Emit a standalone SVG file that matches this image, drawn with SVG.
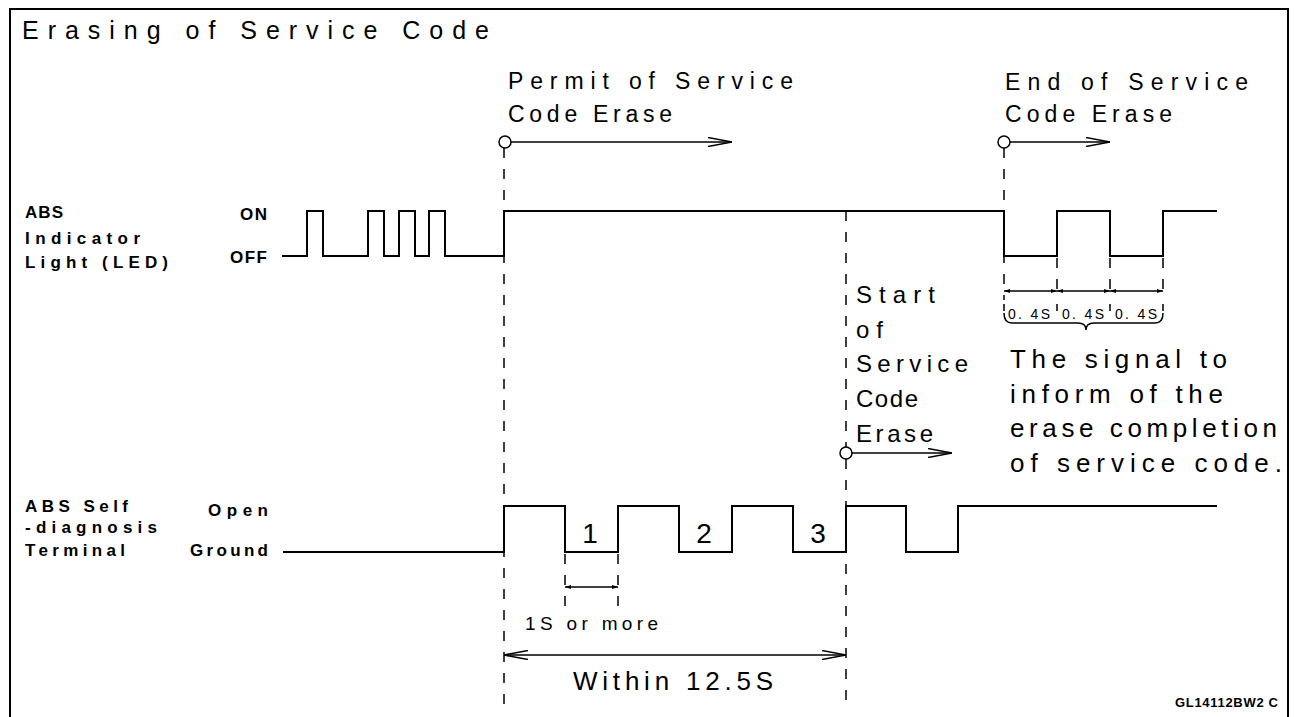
<svg xmlns="http://www.w3.org/2000/svg" width="1297" height="717" viewBox="0 0 1297 717">
<style>
.t{font-family:"Liberation Sans",Arial,sans-serif;fill:#000}
.lbl{font-family:"Liberation Sans",Arial,sans-serif;font-weight:bold;fill:#000;font-size:17px}
.wave{fill:none;stroke:#000;stroke-width:2}
.dash{fill:none;stroke:#000;stroke-width:1.5;stroke-dasharray:10 11}
.thin{fill:none;stroke:#000;stroke-width:1.5}
.circ{fill:#fff;stroke:#000;stroke-width:1.5}
</style>
<defs>
<marker id="open" viewBox="0 0 24 10" refX="24" refY="5" markerWidth="24" markerHeight="10" markerUnits="userSpaceOnUse" orient="auto-start-reverse">
<path d="M0,0.5 L24,5 L0,9.5" fill="none" stroke="#000" stroke-width="1.5"/>
</marker>
<marker id="dim" viewBox="0 0 6 4" refX="6" refY="2" markerWidth="6" markerHeight="4" markerUnits="userSpaceOnUse" orient="auto-start-reverse">
<path d="M0,0 L6,2 L0,4z" fill="#000"/>
</marker>
</defs>
<rect width="1297" height="717" fill="#fff"/>
<path d="M10,717 V9 H1288 V717" fill="none" stroke="#000" stroke-width="2"/>

<g id="title"><text class="t" x="22" y="39" font-size="25" textLength="467" lengthAdjust="spacing">Erasing of Service Code</text></g>

<g id="led-labels">
<text class="lbl" x="25" y="218" textLength="38" lengthAdjust="spacing">ABS</text>
<text class="lbl" x="25" y="244" textLength="115" lengthAdjust="spacing">Indicator</text>
<text class="lbl" x="25" y="268" textLength="143" lengthAdjust="spacing">Light (LED)</text>
<text class="lbl" x="240" y="220" textLength="27" lengthAdjust="spacing">ON</text>
<text class="lbl" x="230" y="263" textLength="37" lengthAdjust="spacing">OFF</text>
</g>

<g id="terminal-labels">
<text class="lbl" x="25" y="512" textLength="103" lengthAdjust="spacing">ABS Self</text>
<text class="lbl" x="25" y="533" textLength="132" lengthAdjust="spacing">-diagnosis</text>
<text class="lbl" x="25" y="556" textLength="100" lengthAdjust="spacing">Terminal</text>
<text class="lbl" x="208" y="516" textLength="60" lengthAdjust="spacing">Open</text>
<text class="lbl" x="190" y="556" textLength="78" lengthAdjust="spacing">Ground</text>
</g>

<g id="led-wave"><path class="wave" d="M282,256 H307 V211 H323 V256 H368 V211 H384 V256 H399 V211 H415 V256 H429 V211 H445 V256 H504 V211 H1004 V256 H1057 V211 H1110 V256 H1163 V211 H1217"/></g>
<g id="terminal-wave"><path class="wave" d="M283,552 H504 V506 H565 V552 H618 V506 H679 V552 H732 V506 H793 V552 H846 V506 H906 V552 H958 V506 H1217"/></g>

<g id="pulse-numbers">
<text class="t" x="590" y="543" font-size="28" text-anchor="middle">1</text>
<text class="t" x="704" y="543" font-size="28" text-anchor="middle">2</text>
<text class="t" x="818" y="543" font-size="28" text-anchor="middle">3</text>
</g>

<g id="connectors">
<line class="dash" x1="504" y1="148" x2="504" y2="706"/>
<line class="dash" x1="846" y1="211" x2="846" y2="447"/>
<line class="dash" x1="846" y1="459" x2="846" y2="706"/>
<line class="dash" x1="1004" y1="148" x2="1004" y2="300"/>
<line class="dash" x1="1057" y1="258" x2="1057" y2="300"/>
<line class="dash" x1="1110" y1="258" x2="1110" y2="300"/>
<line class="dash" x1="1163" y1="258" x2="1163" y2="300"/>
<path class="thin" d="M1004,304 V311 M1057,304 V311 M1110,304 V311 M1163,304 V311"/>
<line class="thin" x1="1004" y1="291" x2="1057" y2="291" marker-start="url(#dim)" marker-end="url(#dim)"/>
<line class="thin" x1="1057" y1="291" x2="1110" y2="291" marker-start="url(#dim)" marker-end="url(#dim)"/>
<line class="thin" x1="1110" y1="291" x2="1163" y2="291" marker-start="url(#dim)" marker-end="url(#dim)"/>
<path class="thin" d="M1004,313 Q1004,323 1012,323 H1078 Q1086,323 1086,330 Q1086,323 1094,323 H1155 Q1163,323 1163,313"/>
<line class="dash" x1="565" y1="554" x2="565" y2="606"/>
<line class="dash" x1="618" y1="554" x2="618" y2="606"/>
<line class="thin" x1="565" y1="587" x2="618" y2="587" marker-start="url(#dim)" marker-end="url(#dim)"/>
<line class="thin" x1="504" y1="655" x2="846" y2="655" marker-start="url(#open)" marker-end="url(#open)"/>
<line class="thin" x1="511" y1="142" x2="732" y2="142" marker-end="url(#open)"/>
<line class="thin" x1="1010" y1="142" x2="1110" y2="142" marker-end="url(#open)"/>
<line class="thin" x1="852" y1="453" x2="952" y2="453" marker-end="url(#open)"/>
</g>

<g id="permit">
<circle class="circ" cx="505" cy="142" r="6"/>
<text class="t" x="508" y="89" font-size="23" textLength="285" lengthAdjust="spacing">Permit of Service</text>
<text class="t" x="508" y="122" font-size="23" textLength="164" lengthAdjust="spacing">Code Erase</text>
</g>

<g id="end">
<circle class="circ" cx="1004" cy="142" r="6"/>
<text class="t" x="1005" y="90" font-size="23" textLength="243" lengthAdjust="spacing">End of Service</text>
<text class="t" x="1005" y="122" font-size="23" textLength="167" lengthAdjust="spacing">Code Erase</text>
</g>

<g id="start">
<circle class="circ" cx="846" cy="453" r="6"/>
<text class="t" x="856" y="303" font-size="24" textLength="79" lengthAdjust="spacing">Start</text>
<text class="t" x="856" y="338" font-size="24" textLength="27" lengthAdjust="spacing">of</text>
<text class="t" x="856" y="372" font-size="24" textLength="112" lengthAdjust="spacing">Service</text>
<text class="t" x="856" y="407" font-size="24" textLength="62" lengthAdjust="spacing">Code</text>
<text class="t" x="856" y="442" font-size="24" textLength="77" lengthAdjust="spacing">Erase</text>
</g>

<g id="signal">
<text class="t" x="1008" y="319" font-size="14" textLength="42" lengthAdjust="spacing">0. 4S</text>
<text class="t" x="1062" y="319" font-size="14" textLength="42" lengthAdjust="spacing">0. 4S</text>
<text class="t" x="1115" y="319" font-size="14" textLength="42" lengthAdjust="spacing">0. 4S</text>
<text class="t" x="1010" y="368" font-size="26" textLength="217" lengthAdjust="spacing">The signal to</text>
<text class="t" x="1010" y="403" font-size="26" textLength="213" lengthAdjust="spacing">inform of the</text>
<text class="t" x="1010" y="437" font-size="26" textLength="267" lengthAdjust="spacing">erase completion</text>
<text class="t" x="1010" y="472" font-size="26" textLength="272" lengthAdjust="spacing">of service code.</text>
</g>

<g id="timing">
<text class="t" x="525" y="630" font-size="19" textLength="133" lengthAdjust="spacing">1S or more</text>
<text class="t" x="573" y="690" font-size="26" textLength="200" lengthAdjust="spacing">Within 12.5S</text>
</g>

<g id="code"><text class="lbl" x="1175" y="707" style="font-size:13px" textLength="103" lengthAdjust="spacing">GL14112BW2 C</text></g>
</svg>
